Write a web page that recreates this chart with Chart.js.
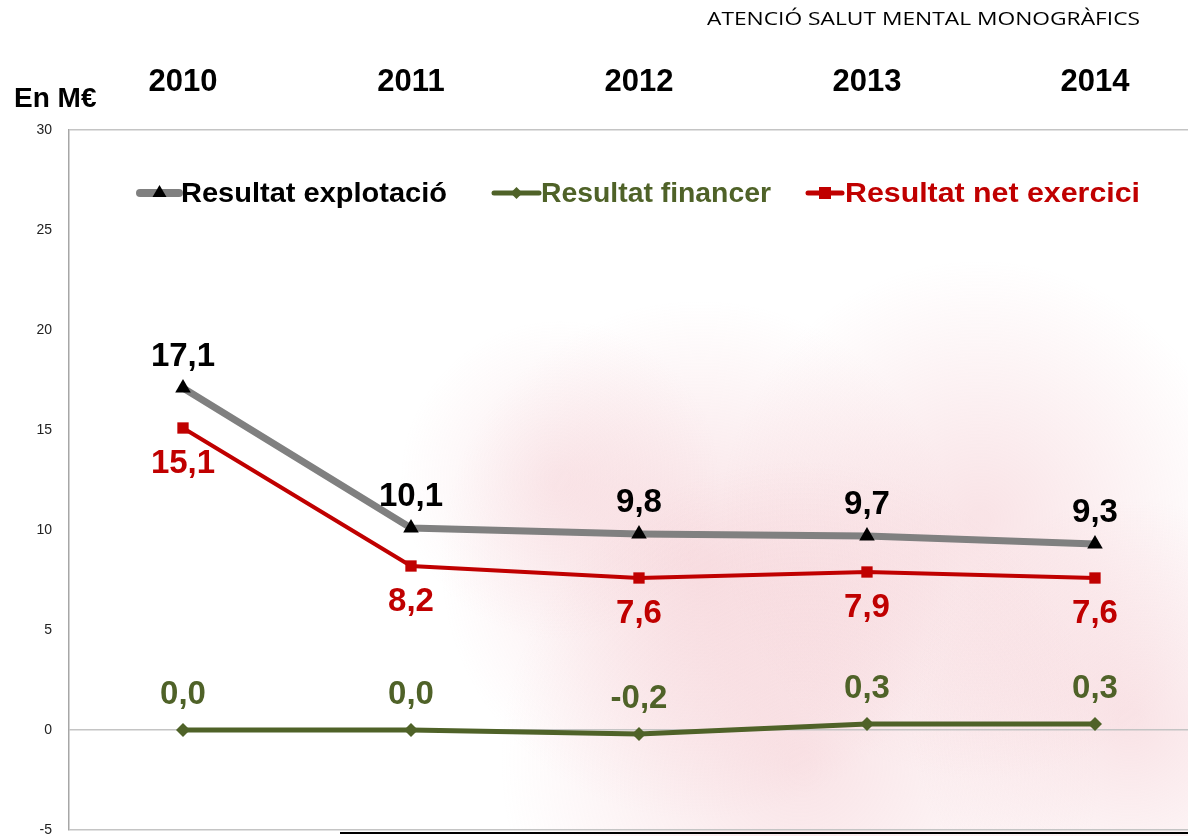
<!DOCTYPE html>
<html>
<head>
<meta charset="utf-8">
<script src="https://cdn.jsdelivr.net/npm/chart.js@4.4.1/dist/chart.umd.min.js"></script>
<style>
  html, body { margin: 0; padding: 0; background: #ffffff; overflow: hidden; }
  #wrap { width: 1188px; height: 836px; position: relative; }
</style>
</head>
<body>
<div id="wrap"><canvas id="chart-1" width="1188" height="836"></canvas></div>
<script>
// Dades del gràfic
const years = ['2010', '2011', '2012', '2013', '2014'];
const explotacio = [17.1, 10.1, 9.8, 9.7, 9.3];
const financer = [0.0, 0.0, -0.2, 0.3, 0.3];
const netExercici = [15.1, 8.2, 7.6, 7.9, 7.6];
const yTicks = [-5, 0, 5, 10, 15, 20, 25, 30];

const titleText = 'ATENCIÓ SALUT MENTAL MONOGRÀFICS';
const unitText = 'En M€';

const GREY = '#808080';
const GREEN = '#4F6228';
const RED = '#C00000';
const FONT = '"Liberation Sans", Arial, sans-serif';

function toPoints(values) {
  return values.map((v, i) => ({ x: i, y: v }));
}

function fmt(v) {
  return v.toFixed(1).replace('.', ',');
}

// llegenda dibuixada a mà, dins de l'àrea del gràfic
const legendItems = [
  { text: 'Resultat explotació', color: '#000000', line: GREY, lw: 8, marker: 'tri', x0: 140, x1: 179, tx: 181, tw: 266 },
  { text: 'Resultat financer', color: GREEN, line: GREEN, lw: 5, marker: 'dia', x0: 494, x1: 539, tx: 541, tw: 230 },
  { text: 'Resultat net exercici', color: RED, line: RED, lw: 5, marker: 'sq', x0: 808, x1: 842, tx: 845, tw: 295 }
];

// etiquetes: desplaçament vertical respecte del punt
const labelSets = [
  { ds: 0, color: '#000000', dy: -31 },
  { ds: 1, color: GREEN, dy: -35 },
  { ds: 2, color: RED, dy: 36 }
];

const decorPlugin = {
  id: 'decor',
  beforeDraw(chart) {
    const ctx = chart.ctx;
    ctx.save();
    // marca d'aigua rosada, molt suau
    const spots = [
      [700, 560, 260, 0.32], [980, 520, 260, 0.3], [800, 760, 300, 0.3],
      [1130, 720, 220, 0.3], [560, 480, 160, 0.2]
    ];
    spots.forEach(([x, y, r, a]) => {
      const g = ctx.createRadialGradient(x, y, 10, x, y, r);
      g.addColorStop(0, `rgba(236,165,175,${a})`);
      g.addColorStop(1, 'rgba(236,165,175,0)');
      ctx.fillStyle = g;
      ctx.fillRect(0, 0, 1188, 836);
    });
    ctx.restore();
  },
  afterDatasetsDraw(chart) {
    const ctx = chart.ctx;
    const xs = chart.scales.x;
    ctx.save();

    // etiquetes de dades
    ctx.font = 'bold 33px ' + FONT;
    ctx.textAlign = 'center';
    ctx.textBaseline = 'middle';
    labelSets.forEach(set => {
      const meta = chart.getDatasetMeta(set.ds);
      ctx.fillStyle = set.color;
      meta.data.forEach((pt, i) => {
        const v = chart.data.datasets[set.ds].data[i].y;
        ctx.fillText(fmt(v), pt.x, pt.y + set.dy);
      });
    });

    // anys a la part superior
    ctx.fillStyle = '#000000';
    ctx.font = 'bold 31px ' + FONT;
    years.forEach((y, i) => {
      ctx.fillText(y, xs.getPixelForValue(i), 82);
    });

    // unitat
    ctx.textAlign = 'left';
    ctx.font = 'bold 28px ' + FONT;
    ctx.fillText(unitText, 14, 99);

    // títol
    ctx.font = '18px "Open Sans", sans-serif';
    const w = ctx.measureText(titleText).width;
    ctx.save();
    ctx.translate(707, 20);
    ctx.scale(433 / w, 1);
    ctx.fillText(titleText, 0, 0);
    ctx.restore();

    // línia negra al peu de la diapositiva
    ctx.fillStyle = '#000000';
    ctx.fillRect(340, 832, 848, 2);

    // llegenda
    legendItems.forEach(it => {
      const cy = 193;
      ctx.strokeStyle = it.line;
      ctx.lineWidth = it.lw;
      ctx.lineCap = 'round';
      ctx.beginPath();
      ctx.moveTo(it.x0, cy);
      ctx.lineTo(it.x1, cy);
      ctx.stroke();
      const mx = (it.x0 + it.x1) / 2;
      if (it.marker === 'tri') {
        ctx.fillStyle = '#000000';
        ctx.beginPath();
        ctx.moveTo(mx, cy - 8);
        ctx.lineTo(mx + 7, cy + 4);
        ctx.lineTo(mx - 7, cy + 4);
        ctx.closePath();
        ctx.fill();
      } else if (it.marker === 'dia') {
        ctx.fillStyle = GREEN;
        ctx.beginPath();
        ctx.moveTo(mx, cy - 6);
        ctx.lineTo(mx + 6, cy);
        ctx.lineTo(mx, cy + 6);
        ctx.lineTo(mx - 6, cy);
        ctx.closePath();
        ctx.fill();
      } else {
        ctx.fillStyle = RED;
        ctx.fillRect(mx - 6, cy - 6, 12, 12);
      }
      ctx.fillStyle = it.color;
      ctx.font = 'bold 28px ' + FONT;
      ctx.textAlign = 'left';
      ctx.textBaseline = 'middle';
      const tw = ctx.measureText(it.text).width;
      ctx.save();
      ctx.translate(it.tx, cy + 1);
      ctx.scale(it.tw / tw, 1);
      ctx.fillText(it.text, 0, 0);
      ctx.restore();
    });

    ctx.restore();
  }
};

const ctx = document.getElementById('chart-1').getContext('2d');

new Chart(ctx, {
  type: 'line',
  data: {
    datasets: [
      {
        label: 'Resultat explotació',
        data: toPoints(explotacio),
        borderColor: GREY,
        borderWidth: 7,
        pointStyle: 'triangle',
        pointRadius: 9,
        pointBackgroundColor: '#000000',
        pointBorderColor: '#000000',
        pointBorderWidth: 0,
        tension: 0
      },
      {
        label: 'Resultat financer',
        data: toPoints(financer),
        borderColor: GREEN,
        borderWidth: 5,
        pointStyle: 'rectRot',
        pointRadius: 7,
        pointBackgroundColor: GREEN,
        pointBorderColor: GREEN,
        pointBorderWidth: 0,
        tension: 0
      },
      {
        label: 'Resultat net exercici',
        data: toPoints(netExercici),
        borderColor: RED,
        borderWidth: 4,
        pointStyle: 'rect',
        pointRadius: 8,
        pointBackgroundColor: RED,
        pointBorderColor: RED,
        pointBorderWidth: 0,
        tension: 0
      }
    ]
  },
  options: {
    responsive: false,
    animation: false,
    layout: { autoPadding: false, padding: { top: 130, bottom: 6, left: 0, right: 0 } },
    plugins: {
      legend: { display: false },
      tooltip: { enabled: false }
    },
    scales: {
      x: {
        type: 'linear',
        display: false,
        min: -0.5,
        max: 4.408
      },
      y: {
        min: -5,
        max: 30,
        afterFit(scale) { scale.width = 69; },
        afterBuildTicks(scale) { scale.ticks = yTicks.map(v => ({ value: v })); },
        border: { display: true, color: '#a6a6a6', width: 1.5 },
        grid: {
          drawTicks: true,
          tickLength: 17,
          tickColor: 'rgba(0,0,0,0)',
          lineWidth: 1.5,
          color: c => ([30, 0, -5].includes(c.tick.value) ? '#c4c4c4' : 'rgba(0,0,0,0)')
        },
        ticks: {
          padding: 0,
          color: '#222222',
          font: { size: 14, family: FONT, lineHeight: 0.8 }
        }
      }
    }
  },
  plugins: [decorPlugin]
});
</script>
</body>
</html>
